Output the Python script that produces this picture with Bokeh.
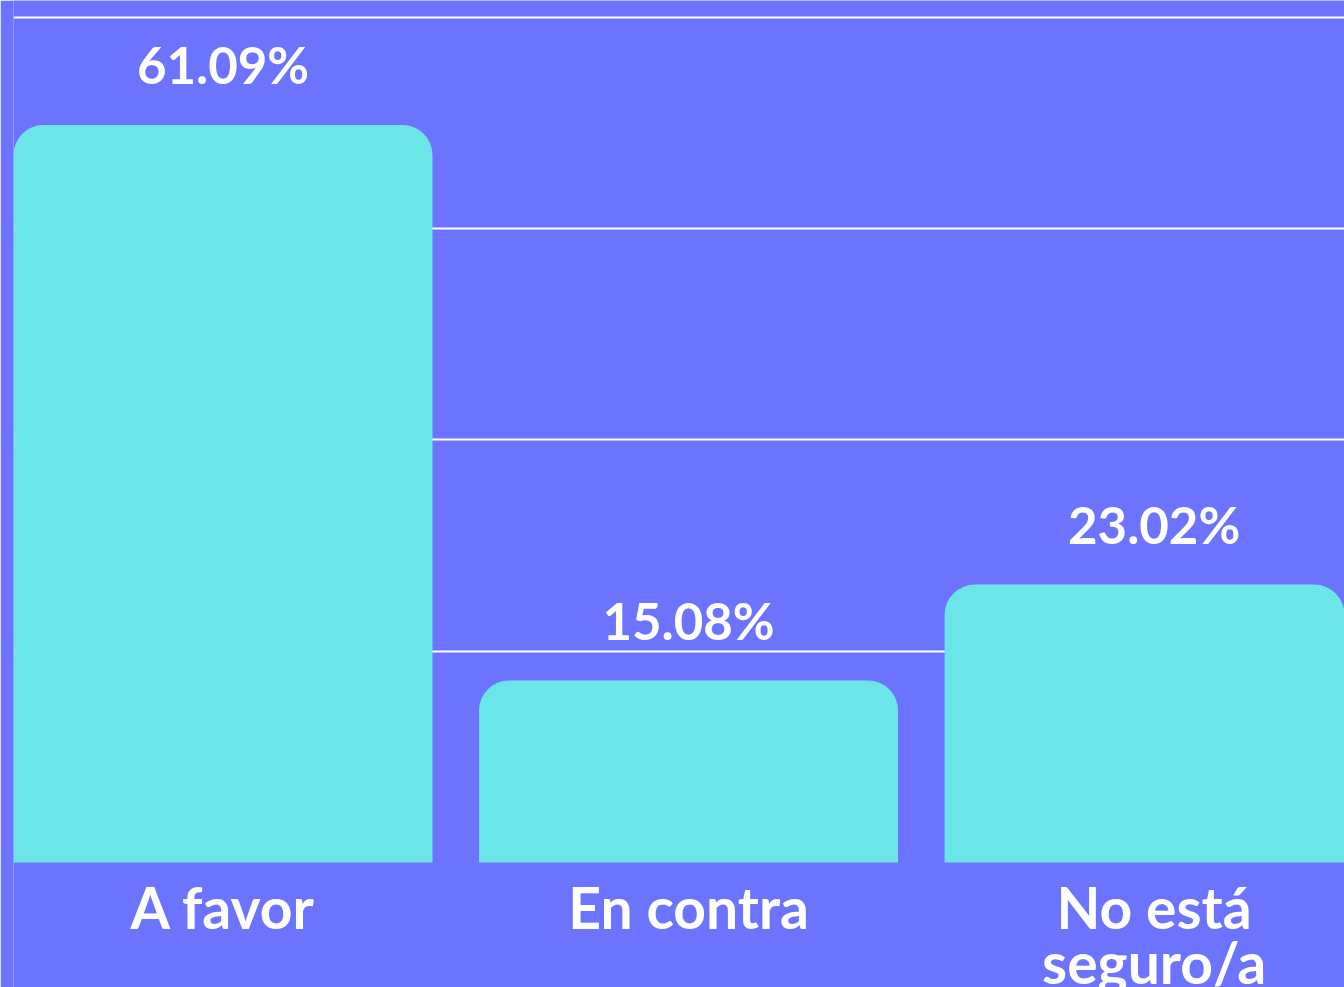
from bokeh.plotting import figure
from bokeh.models import Range1d, FixedTicker, ColumnDataSource
from bokeh.core.properties import value
from bokeh.embed import file_html
from bokeh.resources import INLINE

# ---- data ----
categories = ["A favor", "En contra", "No está\nseguro/a"]
percentages = [61.09, 15.08, 23.02]
grid_values = [17.5, 35, 52.5, 70]

BG = "#6B73FF"
BAR = "#6CE5E8"
FONT = "Lato"

xs = list(range(len(categories)))
src = ColumnDataSource(dict(
    x=xs,
    top=percentages,
    base=[0] * len(xs),
    label=[f"{v:.2f}%" for v in percentages],
    cat=categories,
))

p = figure(width=1344, height=987, output_backend="svg", toolbar_location=None,
           x_range=Range1d(-0.45, 2.409), y_range=Range1d(-10.35, 71.4),
           min_border_left=13, min_border_right=0, min_border_top=0, min_border_bottom=0,
           background_fill_color=BG, border_fill_color=BG, outline_line_color=None)

p.xaxis.visible = False
p.yaxis.visible = False
p.xgrid.visible = False
p.ygrid.ticker = FixedTicker(ticks=grid_values)
p.ygrid.grid_line_color = "white"
p.ygrid.grid_line_width = 2

p.vbar(x="x", top="top", bottom="base", width=0.9, source=src,
       fill_color=BAR, line_color=None, border_radius=(30, 30, 0, 0))

p.text(x="x", y="top", text="label", source=src, y_offset=-60,
       text_align="center", text_baseline="alphabetic",
       text_font=value(FONT), text_font_style="bold",
       text_font_size="51px", text_color="white")

p.text(x="x", y="base", text="cat", source=src, y_offset=10,
       text_align="center", text_baseline="top",
       text_font=value(FONT), text_font_style="bold",
       text_font_size="57px", text_color="white", text_line_height=0.82)

open("out.html", "w").write(file_html(p, INLINE))
